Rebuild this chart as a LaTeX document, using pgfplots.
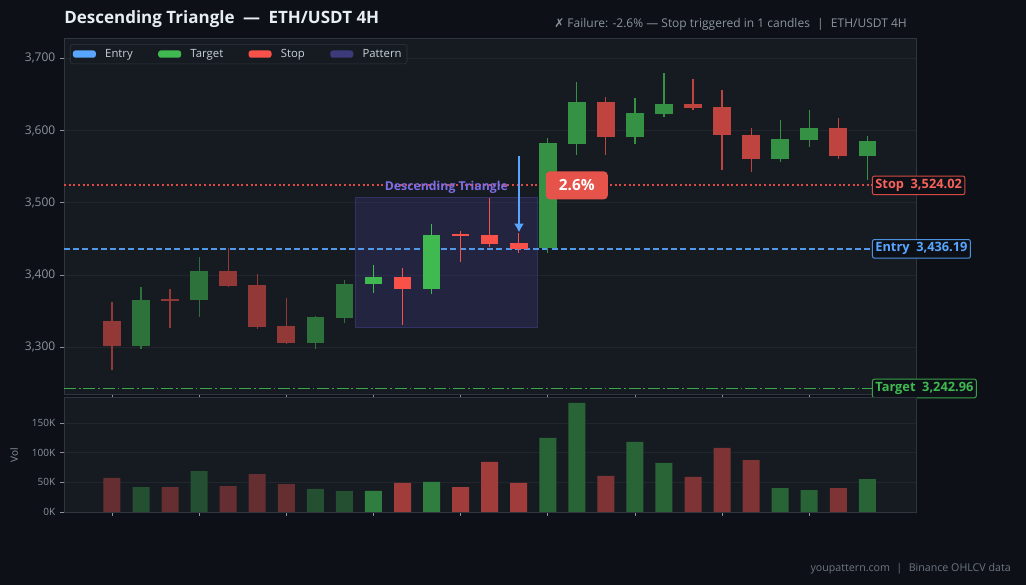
\documentclass[border=0pt]{standalone}
\usepackage{fontspec}
\setmainfont{Open Sans}
\newfontfamily\dejavu{DejaVu Sans}
\usepackage{pgfplots}
\pgfplotsset{compat=1.18}
\usepackage{pgfplotstable}
\usetikzlibrary{arrows.meta}

\definecolor{figbg}{HTML}{0D1117}
\definecolor{axbg}{HTML}{161B22}
\definecolor{gridc}{HTML}{21262D}
\definecolor{spine}{HTML}{30363D}
\definecolor{tickc}{HTML}{8B949E}
\definecolor{upc}{HTML}{3FB950}
\definecolor{dnc}{HTML}{F85149}
\definecolor{entryc}{HTML}{58A6FF}
\definecolor{patc}{HTML}{3D3A7A}
\definecolor{patlab}{HTML}{7D6EE8}
\definecolor{titlec}{HTML}{E6EDF3}
\definecolor{legtext}{HTML}{C9D1D9}
\definecolor{footc}{HTML}{6E7681}
\definecolor{badge}{HTML}{E5534B}

% i open high low close volume(K)
\pgfplotstableread{
i o h l c v
0 3336 3362 3268 3302 57.3
1 3302 3383 3298 3365 42.0
2 3366 3381 3327 3365 42.0
3 3365 3425 3342 3406 69.0
4 3406 3437 3383 3385 43.8
5 3386 3401 3325 3328 64.0
6 3329 3368 3305 3306 47.0
7 3306 3343 3298 3342 38.8
8 3341 3393 3334 3388 35.4
9 3387 3414 3375 3397 35.4
10 3397 3410 3331 3381 48.9
11 3381 3471 3374 3455 50.6
12 3456 3461 3418 3455 42.0
13 3455 3507 3439 3443 84.3
14 3444 3458 3431 3436 48.9
15 3437 3589 3430 3582 124.7
16 3581 3667 3566 3640 183.7
17 3640 3647 3566 3591 60.7
18 3591 3645 3581 3624 118.0
19 3623 3679 3618 3636 82.6
20 3636 3671 3629 3631 59.0
21 3632 3656 3545 3594 107.9
22 3594 3604 3542 3560 87.6
23 3560 3614 3557 3588 40.4
24 3587 3628 3577 3604 37.0
25 3604 3617 3560 3564 40.4
26 3564 3592 3532 3586 55.6
}\ohlc

\pgfplotsset{
  sel/.style n args={3}{restrict expr to domain={(\thisrow{i}>=#1)*(\thisrow{i}<=#2)*((#3)*(\thisrow{c}-\thisrow{o})>=0)}{0.5:1.5}},
  wick/.style={draw=none, mark=none, forget plot,
    error bars/y dir=both, error bars/y explicit, error bars/error mark=none,
    error bars/error bar style={line width=0.9pt, draw=#1}},
  body/.style={draw=none, mark=none, forget plot,
    error bars/y dir=both, error bars/y explicit, error bars/error mark=none,
    error bars/error bar style={line width=13.2pt, draw=#1, line cap=butt}},
  vbar/.style={ybar, bar width=12.75pt, bar shift=0pt, fill=#1, draw=none, forget plot},
  common/.style={
    scale only axis, width=639pt,
    xmin=-1.652, xmax=27.676,
    axis background/.style={fill=axbg},
    axis line style={spine, line width=0.7pt},
    xtick={0,3,...,24}, xticklabels={},
    tick align=outside, xtick pos=bottom, ytick pos=left,
    major tick length=3pt,
    tick style={tickc, line width=0.6pt},
    ymajorgrids, grid style={gridc, line width=0.6pt},
    /pgf/number format/assume math mode=true,
    clip=false,
  },
}

\begin{document}
\begin{tikzpicture}
\useasboundingbox (0,0) rectangle (769.5pt,438.75pt);
\fill[figbg] (0,0) rectangle (769.5pt,438.75pt);

% title and texts
\node[anchor=base west, text=titlec, font=\fontsize{12.75}{15}\selectfont\bfseries, inner sep=0pt] at (48pt,421.3pt) {Descending Triangle\enspace—\enspace ETH/USDT 4H};
\node[anchor=base east, text=tickc, font=\fontsize{9}{11}\selectfont, inner sep=0pt] at (680.25pt,418.3pt) {{\dejavu ✗} Failure: -2.6\% — Stop triggered in 1 candles\hspace{0.6em}|\hspace{0.6em}ETH/USDT 4H};
\node[anchor=base east, text=footc, font=\fontsize{8}{10}\selectfont, inner sep=0pt] at (758.25pt,10pt) {youpattern.com\hspace{0.6em}|\hspace{0.6em}Binance OHLCV data};
\node[rotate=90, text=tickc, font=\fontsize{7.5}{9}\selectfont, inner sep=0pt] at (10.5pt,97.5pt) {Vol};

% ---------- price axis ----------
\begin{axis}[common,
  at={(48pt,143.25pt)}, anchor=south west, height=267pt,
  ymin=3235.3, ymax=3728,
  ytick={3300,3400,3500,3600,3700},
  /pgf/number format/1000 sep={,},
  scaled y ticks=false,
  yticklabel style={font=\fontsize{9}{10}\selectfont, text=tickc},
  legend image code/.code={\fill[#1] (0pt,-2.75pt) rectangle (17.25pt,2.75pt);},
  legend columns=4,
  legend style={at={(0.007,0.983)}, anchor=north west, fill=axbg, draw=spine,
    rounded corners=2pt, text=legtext, font=\fontsize{8.5}{10}\selectfont,
    inner xsep=2pt, inner ysep=1.5pt,
    /tikz/every odd column/.append style={column sep=5pt},
    /tikz/every even column/.append style={column sep=17pt}},
]
\addlegendimage{fill=entryc, draw=none}\addlegendentry{Entry}
\addlegendimage{fill=upc, draw=none}\addlegendentry{Target}
\addlegendimage{fill=dnc, draw=none}\addlegendentry{Stop}
\addlegendimage{fill=patc, draw=none}\addlegendentry{Pattern}

% pattern box
\addplot[fill=patc, fill opacity=0.35, draw=patc, draw opacity=0.7, line width=0.75pt, forget plot]
  coordinates {(8.39,3327) (14.63,3327) (14.63,3507.4) (8.39,3507.4) (8.39,3327)};

% level lines
\addplot[dnc!88!axbg, line width=1.4pt, dash pattern=on 1.4pt off 2.1pt, forget plot]
  coordinates {(-1.652,3524.02) (27.676,3524.02)};
\addplot[entryc!90!axbg, line width=1.1pt, dash pattern=on 4.5pt off 2.4pt, forget plot]
  coordinates {(-1.652,3436.19) (27.676,3436.19)};
\addplot[upc!90!axbg, line width=1.2pt, dash pattern=on 9pt off 2.2pt on 1.2pt off 2.2pt, forget plot]
  coordinates {(-1.652,3242.96) (27.676,3242.96)};

% wicks
\addplot[sel={0}{8}{1}, wick=upc!55!axbg] table[x=i, y expr={(\thisrow{h}+\thisrow{l})/2}, y error expr={(\thisrow{h}-\thisrow{l})/2}] {\ohlc};
\addplot[sel={0}{8}{-1}, wick=dnc!55!axbg] table[x=i, y expr={(\thisrow{h}+\thisrow{l})/2}, y error expr={(\thisrow{h}-\thisrow{l})/2}] {\ohlc};
\addplot[sel={9}{14}{1}, wick=upc] table[x=i, y expr={(\thisrow{h}+\thisrow{l})/2}, y error expr={(\thisrow{h}-\thisrow{l})/2}] {\ohlc};
\addplot[sel={9}{14}{-1}, wick=dnc] table[x=i, y expr={(\thisrow{h}+\thisrow{l})/2}, y error expr={(\thisrow{h}-\thisrow{l})/2}] {\ohlc};
\addplot[sel={15}{26}{1}, wick=upc!75!axbg] table[x=i, y expr={(\thisrow{h}+\thisrow{l})/2}, y error expr={(\thisrow{h}-\thisrow{l})/2}] {\ohlc};
\addplot[sel={15}{26}{-1}, wick=dnc!75!axbg] table[x=i, y expr={(\thisrow{h}+\thisrow{l})/2}, y error expr={(\thisrow{h}-\thisrow{l})/2}] {\ohlc};

% bodies
\addplot[sel={0}{8}{1}, body=upc!55!axbg] table[x=i, y expr={(\thisrow{o}+\thisrow{c})/2}, y error expr={max(abs(\thisrow{c}-\thisrow{o})/2,0.9)}] {\ohlc};
\addplot[sel={0}{8}{-1}, body=dnc!55!axbg] table[x=i, y expr={(\thisrow{o}+\thisrow{c})/2}, y error expr={max(abs(\thisrow{c}-\thisrow{o})/2,0.9)}] {\ohlc};
\addplot[sel={9}{14}{1}, body=upc] table[x=i, y expr={(\thisrow{o}+\thisrow{c})/2}, y error expr={max(abs(\thisrow{c}-\thisrow{o})/2,0.9)}] {\ohlc};
\addplot[sel={9}{14}{-1}, body=dnc] table[x=i, y expr={(\thisrow{o}+\thisrow{c})/2}, y error expr={max(abs(\thisrow{c}-\thisrow{o})/2,0.9)}] {\ohlc};
\addplot[sel={15}{26}{1}, body=upc!75!axbg] table[x=i, y expr={(\thisrow{o}+\thisrow{c})/2}, y error expr={max(abs(\thisrow{c}-\thisrow{o})/2,0.9)}] {\ohlc};
\addplot[sel={15}{26}{-1}, body=dnc!75!axbg] table[x=i, y expr={(\thisrow{o}+\thisrow{c})/2}, y error expr={max(abs(\thisrow{c}-\thisrow{o})/2,0.9)}] {\ohlc};

% arrow
\addplot[entryc, line width=2pt, -{Latex[length=6.5pt,width=7.5pt]}, forget plot]
  coordinates {(14.01,3565) (14.01,3459)};

% labels
\node[text=patlab, font=\fontsize{9.2}{11}\selectfont\bfseries] at (axis cs:11.51,3522) {Descending Triangle};
\node[fill=badge, text=white, font=\fontsize{11.5}{13}\selectfont\bfseries, rounded corners=3pt,
  minimum width=46.5pt, minimum height=21pt, inner sep=0pt] at (axis cs:16,3524.02) {2.6\%};
\node[anchor=west, fill=figbg, draw=dnc!85!axbg, line width=0.75pt, rounded corners=1.5pt, text=dnc!90!white,
  font=\fontsize{9.6}{11}\selectfont\bfseries, inner xsep=2.2pt, inner ysep=0pt, minimum height=14pt] at (axis cs:26.16,3524.02) {Stop\ \ 3,524.02};
\node[anchor=west, fill=figbg, draw=entryc!85!axbg, line width=0.75pt, rounded corners=1.5pt, text=entryc,
  font=\fontsize{9.6}{11}\selectfont\bfseries, inner xsep=2.2pt, inner ysep=0pt, minimum height=14pt] at (axis cs:26.16,3436.19) {Entry\ \ 3,436.19};
\node[anchor=west, fill=figbg, draw=upc!85!axbg, line width=0.75pt, rounded corners=1.5pt, text=upc,
  font=\fontsize{9.6}{11}\selectfont\bfseries, inner xsep=2.2pt, inner ysep=0pt, minimum height=14pt] at (axis cs:26.16,3242.96) {Target\ \ 3,242.96};
\end{axis}

% ---------- volume axis ----------
\begin{axis}[common,
  at={(48pt,54.75pt)}, anchor=south west, height=86.25pt,
  ymin=0, ymax=193.8,
  ytick={0,50,100,150}, yticklabels={0K,50K,100K,150K},
  yticklabel style={font=\fontsize{7.5}{9}\selectfont, text=tickc},
]
\addplot[sel={0}{8}{1}, vbar=upc!33!axbg] table[x=i, y=v] {\ohlc};
\addplot[sel={0}{8}{-1}, vbar=dnc!35!axbg] table[x=i, y=v] {\ohlc};
\addplot[sel={9}{14}{1}, vbar=upc!62!axbg] table[x=i, y=v] {\ohlc};
\addplot[sel={9}{14}{-1}, vbar=dnc!61!axbg] table[x=i, y=v] {\ohlc};
\addplot[sel={15}{26}{1}, vbar=upc!46!axbg] table[x=i, y=v] {\ohlc};
\addplot[sel={15}{26}{-1}, vbar=dnc!46!axbg] table[x=i, y=v] {\ohlc};
\end{axis}
\end{tikzpicture}
\end{document}
